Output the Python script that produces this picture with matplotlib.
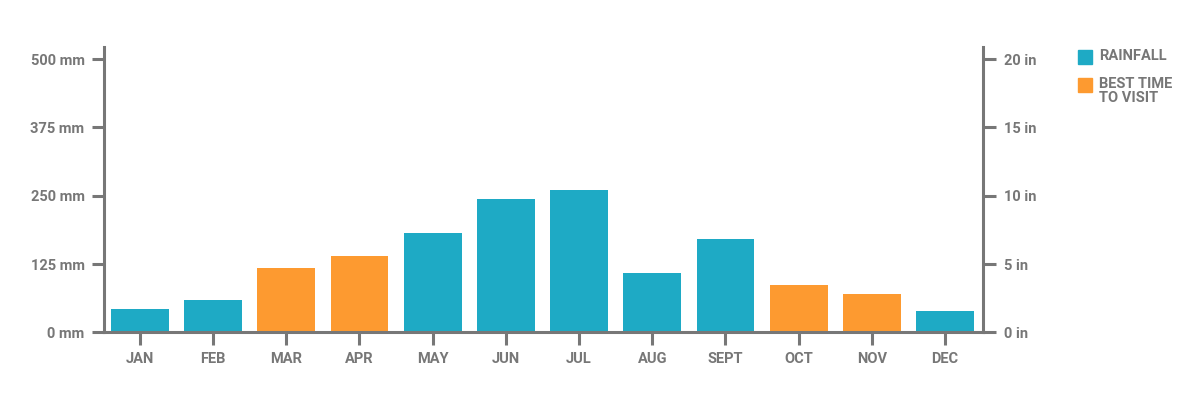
import matplotlib as mplt
mplt.use("Agg")
import matplotlib.pyplot as plt
import matplotlib.patches as mpatches

# monthly rainfall, mm
months = ["JAN", "FEB", "MAR", "APR", "MAY", "JUN", "JUL", "AUG", "SEPT", "OCT", "NOV", "DEC"]
rainfall_mm = [42, 60, 117, 139, 181, 244, 261, 108, 170, 86, 70, 39]
best_time = [False, False, True, True, False, False, False, False, False, True, True, False]

mm_ticks = [0, 125, 250, 375, 500]
in_ticks = [0, 5, 10, 15, 20]
mm_per_in = 25.0

teal = "#1eaac5"
orange = "#fd9a30"
grey = "#777777"

plt.rcParams["font.family"] = ["Liberation Sans Narrow", "Roboto", "DejaVu Sans"]
plt.rcParams["font.weight"] = "bold"

fig = plt.figure(figsize=(12, 4), dpi=100)
ax = fig.add_axes([0.0867, 0.169, 0.7325, 0.7135])

colors = [orange if b else teal for b in best_time]
ax.bar(range(len(months)), rainfall_mm, width=0.79, color=colors, zorder=2)

ax.set_xlim(-0.49, 11.52)
ax.set_ylim(0, 522)
ax.set_xticks(range(len(months)))
ax.set_xticklabels(months)
ax.set_yticks(mm_ticks)
ax.set_yticklabels([f"{t} mm" for t in mm_ticks])

ax2 = ax.twinx()
ax2.set_ylim(0, 522 / mm_per_in)
ax2.set_yticks(in_ticks)
ax2.set_yticklabels([f"{t} in" for t in in_ticks])

for _ax in [ax, ax2]:
    _ax.spines["top"].set_visible(False)
    for s in ["left", "right", "bottom"]:
        _ax.spines[s].set_color(grey)
        _ax.spines[s].set_linewidth(2.2)
    _ax.tick_params(axis="both", colors=grey, labelcolor=grey, width=2.2, length=9,
                    labelsize=10.5)
ax.tick_params(axis="x", pad=5)
ax.tick_params(axis="y", pad=5)
ax2.tick_params(axis="y", pad=6)
ax2.spines["left"].set_visible(False)
ax2.spines["bottom"].set_visible(False)
ax.spines["right"].set_visible(False)

# legend drawn by hand so the square lines up with the first text row
legend_items = [("RAINFALL", teal), ("BEST TIME\nTO VISIT", orange)]
sq_w, sq_h = 14 / 1200, 14 / 400
for i, (label, col) in enumerate(legend_items):
    y_top = (400 - 50 - i * 28) / 400
    fig.add_artist(mpatches.Rectangle((1078 / 1200, y_top - sq_h), sq_w, sq_h,
                                      color=col, transform=fig.transFigure))
    fig.text(1099 / 1200, y_top + 0.002, label, color=grey, fontsize=10.5,
             va="top", ha="left", linespacing=0.95)

fig.savefig("out.png", dpi=100)
